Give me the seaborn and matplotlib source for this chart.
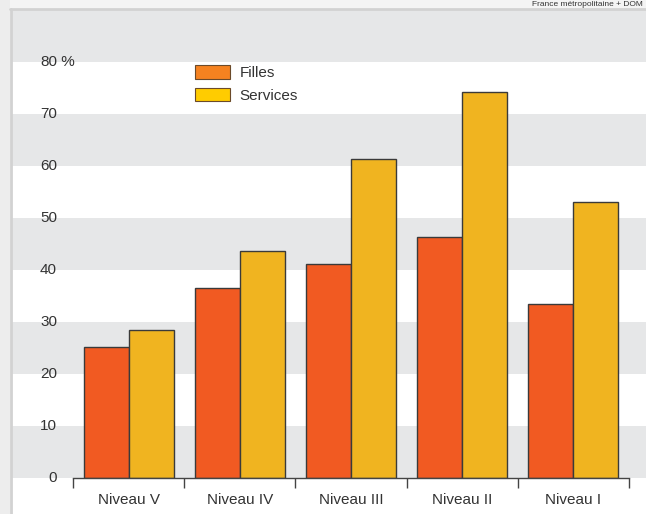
import matplotlib
matplotlib.use("Agg")
import matplotlib.pyplot as plt
import matplotlib.transforms as mtransforms
from matplotlib.patches import Rectangle
import seaborn as sns
import pandas as pd

categories = ["Niveau V", "Niveau IV", "Niveau III", "Niveau II", "Niveau I"]
filles = [25.2, 36.5, 41.2, 46.3, 33.5]
services = [28.5, 43.7, 61.3, 74.2, 53.1]
series_names = ["Filles", "Services"]
ytick_values = [0, 10, 20, 30, 40, 50, 60, 70, 80]
ytick_labels = ["0", "10", "20", "30", "40", "50", "60", "70", "80"]
unit_label = " %"
subtitle = "France métropolitaine + DOM"

df = pd.DataFrame({
    "niveau": categories * 2,
    "serie": [series_names[0]] * len(categories) + [series_names[1]] * len(categories),
    "valeur": filles + services,
})

sns.set_theme(style="white")
plt.rcParams["font.family"] = ["Liberation Sans Narrow", "Liberation Sans", "DejaVu Sans"]
plt.rcParams["text.color"] = "#333333"

W, H = 646, 514
fig = plt.figure(figsize=(W / 100, H / 100), dpi=100, facecolor="white")

# axes in pixel coords: left 12, right 646, top 10, bottom 478
ax = fig.add_axes([12 / W, (H - 478) / H, (646 - 12) / W, (478 - 10) / H])
ax.set_facecolor("white")

bar_colors = {"Filles": "#F15A22", "Services": "#F0B420"}
sns.barplot(data=df, x="niveau", y="valeur", hue="serie", order=categories,
            hue_order=series_names, palette=bar_colors, width=0.81,
            edgecolor="#3a3a3a", linewidth=1.0, saturation=1, ax=ax,
            legend=False, zorder=3)

ax.set_ylim(0, 90)
ax.set_xlim(-1.049, 4.653)

# bands
for lo in [0, 20, 40, 60, 80]:
    ax.axhspan(lo, lo + 10, color="#E6E7E8", zorder=0, lw=0)

for s in ["top", "right", "left"]:
    ax.spines[s].set_visible(False)
ax.spines["bottom"].set_bounds(-0.5, 4.5)
ax.spines["bottom"].set_color("#444444")
ax.spines["bottom"].set_linewidth(1.0)
ax.spines["bottom"].set_zorder(4)

ax.set_xticks([i - 0.5 for i in range(len(categories) + 1)])
ax.set_xticklabels([])
ax.tick_params(axis="x", which="major", direction="out", length=7, width=1.0,
               color="#444444", bottom=True)
ax.set_xticks(range(len(categories)), minor=True)
ax.set_xticklabels(categories, minor=True, fontsize=11, color="#333333")
ax.tick_params(axis="x", which="minor", length=0, pad=11)
ax.set_yticks([])
ax.set_xlabel("")
ax.set_ylabel("")

# y labels right-aligned at x pixel 57, unit after the top value
trans = mtransforms.blended_transform_factory(fig.transFigure, ax.transData)
for v, lab in zip(ytick_values, ytick_labels):
    ax.text(57 / W, v, lab, transform=trans, ha="right", va="center",
            fontsize=11, color="#333333")
ax.text(57 / W, ytick_values[-1], unit_label, transform=trans, ha="left",
        va="center", fontsize=11, color="#333333")

# legend
leg_handles = [Rectangle((0, 0), 1, 1, facecolor="#F58220", edgecolor="#6b4a2a", lw=0.8),
               Rectangle((0, 0), 1, 1, facecolor="#FFCC00", edgecolor="#6b4a2a", lw=0.8)]
leg = ax.legend(leg_handles, series_names, loc="upper left",
                bbox_to_anchor=((195 - 12) / (646 - 12), (478 - 65) / 468),
                frameon=False, fontsize=11, handlelength=2.3, handleheight=1.0,
                handletextpad=0.6, labelspacing=0.5, borderaxespad=0, borderpad=0)

# frame decorations
fig.patches.append(Rectangle((0, 0), 10 / W, 1, transform=fig.transFigure,
                             facecolor="#EDEDED", edgecolor="none", zorder=-1))
fig.patches.append(Rectangle((10 / W, (H - 8) / H), 1, 8 / H, transform=fig.transFigure,
                             facecolor="#F4F4F4", edgecolor="none", zorder=-1))
fig.lines.append(plt.Line2D([11 / W, 11 / W], [0, (H - 9) / H], transform=fig.transFigure,
                            color="#D2D2D2", lw=2))
fig.lines.append(plt.Line2D([10 / W, 1], [(H - 9) / H, (H - 9) / H], transform=fig.transFigure,
                            color="#D2D2D2", lw=2))

fig.text(643 / W, (H - 0.5) / H, subtitle, ha="right", va="top", fontsize=6,
         color="#333333")

fig.savefig("out.png", dpi=100, facecolor="white")
